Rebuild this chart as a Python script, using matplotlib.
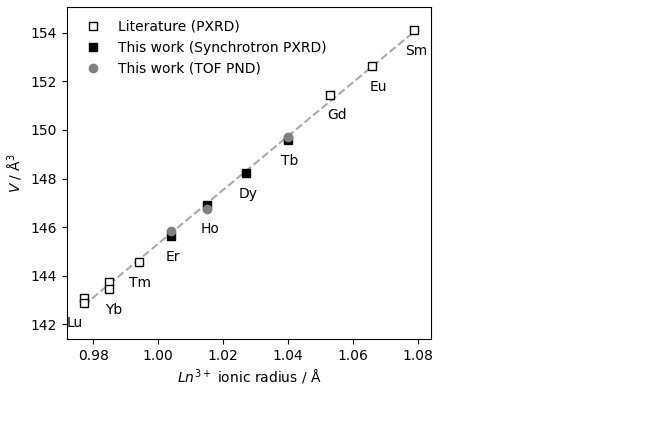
import matplotlib
matplotlib.use("Agg")
import matplotlib.pyplot as plt
import numpy as np

# ionic radii (Å) and cell volumes (Å^3)
elements = ["Lu", "Yb", "Tm", "Er", "Ho", "Dy", "Tb", "Gd", "Eu", "Sm"]
radii = [0.977, 0.985, 0.994, 1.004, 1.015, 1.027, 1.040, 1.053, 1.066, 1.079]

# literature PXRD
lit_r = [0.977, 0.977, 0.985, 0.985, 0.994, 1.053, 1.066, 1.079]
lit_v = [143.08, 142.90, 143.76, 143.46, 144.55, 151.45, 152.62, 154.12]

# this work, synchrotron PXRD
syn_r = [1.004, 1.015, 1.027, 1.040]
syn_v = [145.62, 146.93, 148.22, 149.58]

# this work, TOF PND
tof_r = [1.004, 1.015, 1.040]
tof_v = [145.83, 146.76, 149.71]

# label offsets (points) relative to the lowest point of each element
label_dx = [-6, 3, 1, 1.5, 2, 1.5, 1.5, 5, 4.5, 1]

fig, ax = plt.subplots(figsize=(6.48, 4.43), dpi=100)
fig.subplots_adjust(left=0.1034, right=0.665, bottom=0.2348, top=0.984)

# linear fit through all points
all_r = np.array(lit_r + syn_r + tof_r)
all_v = np.array(lit_v + syn_v + tof_v)
k, b = np.polyfit(all_r, all_v, 1)
xf = np.array([min(radii), max(radii)])
ax.plot(xf, k * xf + b, ls="--", color="darkgray", lw=1.5, zorder=1)

ax.plot(lit_r, lit_v, "s", mfc="white", mec="black", ms=6, ls="none",
        label="Literature (PXRD)", zorder=2)
ax.plot(syn_r, syn_v, "s", color="black", ms=6, ls="none",
        label="This work (Synchrotron PXRD)", zorder=3)
ax.plot(tof_r, tof_v, "o", color="grey", ms=6, ls="none",
        label="This work (TOF PND)", zorder=4)

for el, r, dx in zip(elements, radii, label_dx):
    vs = [v for rr, v in zip(lit_r + syn_r + tof_r, lit_v + syn_v + tof_v) if rr == r]
    ax.annotate(el, (r, min(vs)), xytext=(dx, -15), textcoords="offset points",
                ha="center", va="center", fontsize=10)

ax.set_ylim(141.4, 155.05)
ax.set_yticks([142, 144, 146, 148, 150, 152, 154])
ax.set_xticks([0.98, 1.00, 1.02, 1.04, 1.06, 1.08])
ax.set_xlabel("$Ln^{3+}$ ionic radius / Å")
ax.set_ylabel("$V$ / Å$^3$")
ax.legend(loc="upper left", frameon=False)

fig.savefig("out.png", dpi=100)
